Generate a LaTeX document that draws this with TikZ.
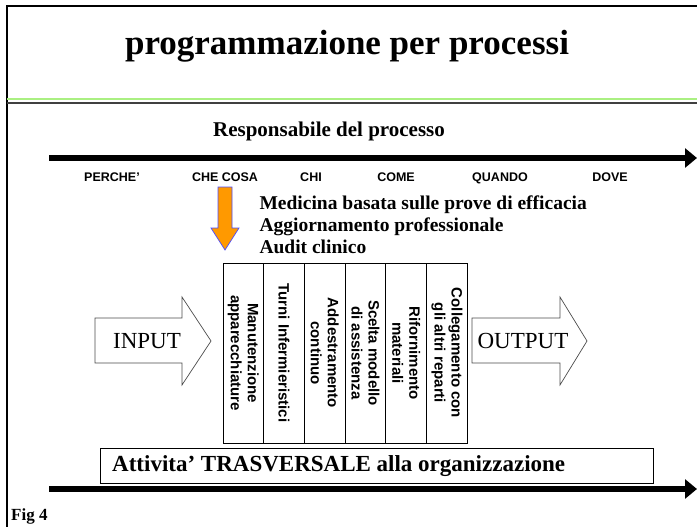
\documentclass[tikz,border=0pt]{standalone}
\usepackage{fontspec}
\setmainfont{Liberation Serif}
\setsansfont{Liberation Sans}
\usetikzlibrary{arrows.meta}
\definecolor{orng}{RGB}{255,153,0}
\definecolor{grn}{RGB}{170,240,130}
\tikzset{
  timeline/.style={line width=6pt,-{Triangle[length=12pt,width=19pt]}},
  lbl/.style={font=\sffamily\bfseries\fontsize{12.5}{14}\selectfont,anchor=base},
  col/.style={draw,line width=1pt,minimum width=40.7pt,minimum height=180pt,anchor=north west,inner sep=0pt},
  coltext/.style={rotate=-90,font=\sffamily\bfseries\fontsize{15}{17}\selectfont,align=center},
  bigarrow/.style={draw=black!70,line width=0.7pt,fill=white},
  hdr/.style={font=\bfseries\fontsize{19.5}{22}\selectfont,anchor=base west}
}
\begin{document}
\begin{tikzpicture}[x=1pt,y=-1pt]
\useasboundingbox (0,0) rectangle (697,527);
% frame
\draw[line width=2.5pt] (7,527) -- (7,6) -- (697,6);
\draw[grn,line width=2pt] (7,99) -- (697,99);
\draw[black!75,line width=1.5pt] (7,103) -- (697,103);
\node[font=\bfseries\fontsize{35}{40}\selectfont] (title) at (347,46) {programmazione per processi};
\node[font=\bfseries\fontsize{21}{24}\selectfont] (resp) at (329,131) {Responsabile del processo};
% top timeline
\coordinate (t1) at (49,158);
\coordinate (t2) at (697,158);
\draw[timeline] (t1) -- (t2);
\node[lbl] (perche) at (112,182) {PERCHE'};
\node[lbl] (checosa) at (225,182) {CHE COSA};
\node[lbl] (chi) at (311,182) {CHI};
\node[lbl] (come) at (396,182) {COME};
\node[lbl] (quando) at (500,182) {QUANDO};
\node[lbl] (dove) at (610,182) {DOVE};
% orange arrow
\draw[blue!70,line width=0.7pt,fill=orng] (218,187) -- (232,187) -- (232,228) -- (239,228) -- (225,250) -- (211,228) -- (218,228) -- cycle;
\node[hdr] (med) at (256,209) {Medicina basata sulle prove di efficacia};
\node[hdr] (agg) at (256,231) {Aggiornamento professionale};
\node[hdr] (aud) at (256,253) {Audit clinico};
% process columns
\node[col] (c1) at (222.5,262.5) {};
\node[col] (c2) at (263.2,262.5) {};
\node[col] (c3) at (303.9,262.5) {};
\node[col] (c4) at (344.6,262.5) {};
\node[col] (c5) at (385.3,262.5) {};
\node[col] (c6) at (426.0,262.5) {};
\node[coltext] at (c1.center) {Manutenzione\\apparecchiature};
\node[coltext] at (c2.center) {Turni Infermieristici};
\node[coltext] at (c3.center) {Addestramento\\continuo};
\node[coltext] at (c4.center) {Scelta modello\\di assistenza};
\node[coltext] at (c5.center) {Rifornimento\\materiali};
\node[coltext] at (c6.center) {Collegamento con\\gli altri reparti};
% input / output arrows
\draw[bigarrow] (95,318) -- (182,318) -- (182,297) -- (211,341) -- (182,385) -- (182,363) -- (95,363) -- cycle;
\node[font=\fontsize{23}{26}\selectfont] (input) at (147,341) {INPUT};
\draw[bigarrow] (472,318) -- (560,318) -- (560,297) -- (587,341) -- (560,385) -- (560,363) -- (472,363) -- cycle;
\node[font=\fontsize{23}{26}\selectfont] (output) at (523,341) {OUTPUT};
% bottom box
\node[draw,line width=0.7pt,minimum width=553pt,minimum height=35pt,anchor=north west] (trasv) at (100,448) {};
\node[font=\bfseries\fontsize{23}{26}\selectfont,anchor=west,inner sep=0pt] (trasvt) at (112,466) {Attivita' TRASVERSALE alla organizzazione};
\coordinate (b1) at (49,489);
\coordinate (b2) at (697,489);
\draw[timeline] (b1) -- (b2);
\node[font=\bfseries\fontsize{17}{19}\selectfont,anchor=base west,inner sep=0pt] (fig) at (11,520) {Fig 4};
\end{tikzpicture}
\end{document}
